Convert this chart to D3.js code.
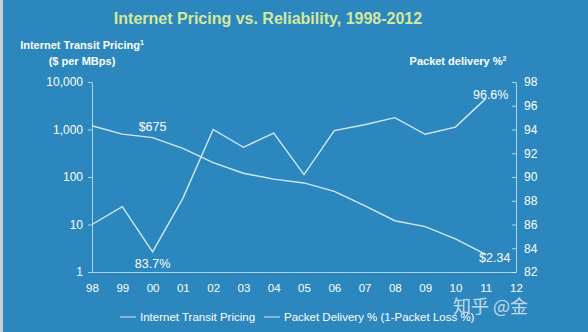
<!DOCTYPE html>
<meta charset="utf-8">
<script src="https://d3js.org/d3.v7.min.js"></script>
<style>
  body { margin: 0; background: #2b87be; }
  svg { display: block; font-family: "Liberation Sans", Arial, sans-serif; }
</style>
<div id="chart"></div>
<script>

// years on the x axis
var years = ["98", "99", "00", "01", "02", "03", "04", "05", "06", "07", "08", "09", "10", "11", "12"]

// transit price in $ per Mbps, 1998-2011
var pricing = [1200, 800, 675, 400, 200, 120, 90, 75, 50, 25, 12, 9, 5, 2.34]

// packet delivery %, 1998-2011
var delivery = [86, 87.5, 83.7, 88.2, 94, 92.5, 93.7, 90.2, 93.9, 94.4, 95, 93.6, 94.2, 96.6]

var leftTicks = [1, 10, 100, 1000, 10000]
var rightTicks = [82, 84, 86, 88, 90, 92, 94, 96, 98]

var width = 588,
    height = 332

var svg = d3.select("#chart")
  .append("svg")
    .attr("width", width)
    .attr("height", height)

svg.append("rect")
  .attr("width", width)
  .attr("height", height)
  .attr("fill", "#2b87be")

// pale strip along the left edge
svg.append("rect")
  .attr("width", 3)
  .attr("height", height)
  .attr("fill", "#c9ced8")

var x = d3.scalePoint().domain(years).range([92, 516])
var yL = d3.scaleLog().domain([1, 10000]).range([272, 82])
var yR = d3.scaleLinear().domain([82, 98]).range([272, 82])

var axisColor = "rgba(220,236,248,0.75)"
var lineColor = "rgba(228,242,252,0.9)"

// title
svg.append("text")
  .attr("x", 268)
  .attr("y", 24)
  .attr("text-anchor", "middle")
  .style("font-size", "16px")
  .style("font-weight", "bold")
  .attr("fill", "#d3e89b")
  .text("Internet Pricing vs. Reliability, 1998-2012")

// axis titles
var leftTitle = svg.append("text")
  .attr("x", 82)
  .attr("y", 49)
  .attr("text-anchor", "middle")
  .style("font-size", "11px")
  .style("font-weight", "bold")
  .attr("fill", "#fff")
leftTitle.append("tspan").text("Internet Transit Pricing")
leftTitle.append("tspan").attr("dy", -4).style("font-size", "7px").text("1")
svg.append("text")
  .attr("x", 82)
  .attr("y", 65)
  .attr("text-anchor", "middle")
  .style("font-size", "11px")
  .style("font-weight", "bold")
  .attr("fill", "#fff")
  .text("($ per MBps)")

var rightTitle = svg.append("text")
  .attr("x", 458)
  .attr("y", 65)
  .attr("text-anchor", "middle")
  .style("font-size", "11px")
  .style("font-weight", "bold")
  .attr("fill", "#fff")
rightTitle.append("tspan").text("Packet delivery %")
rightTitle.append("tspan").attr("dy", -4).style("font-size", "7px").text("2")

// axes
function styleAxis(size) {
  return function(g) {
    g.selectAll("path, line").attr("stroke", axisColor).attr("stroke-width", 1)
    g.selectAll("text").attr("fill", "#fff").style("font-size", size).style("font-family", "inherit")
  }
}

svg.append("g")
  .attr("transform", "translate(92,0)")
  .call(d3.axisLeft(yL).tickValues(leftTicks).tickFormat(d3.format(",")).tickSize(4).tickSizeOuter(0).tickPadding(5))
  .call(styleAxis("12px"))

svg.append("g")
  .attr("transform", "translate(516,0)")
  .call(d3.axisRight(yR).tickValues(rightTicks).tickSize(-4).tickSizeOuter(0).tickPadding(8))
  .call(styleAxis("12px"))

svg.append("g")
  .attr("transform", "translate(0,272)")
  .call(d3.axisBottom(x).tickSize(0).tickPadding(12))
  .call(styleAxis("11.5px"))

// series lines
var priceLine = d3.line()
  .x(function(d, i) { return x(years[i]) })
  .y(function(d) { return yL(d) })

var deliveryLine = d3.line()
  .x(function(d, i) { return x(years[i]) })
  .y(function(d) { return yR(d) })

svg.append("path")
  .datum(pricing)
  .attr("d", priceLine)
  .attr("fill", "none")
  .attr("stroke", lineColor)
  .attr("stroke-width", 1.4)

svg.append("path")
  .datum(delivery)
  .attr("d", deliveryLine)
  .attr("fill", "none")
  .attr("stroke", lineColor)
  .attr("stroke-width", 1.4)

// value callouts
function callout(px, py, txt) {
  svg.append("text")
    .attr("x", px)
    .attr("y", py)
    .attr("text-anchor", "middle")
    .attr("dy", "0.35em")
    .style("font-size", "12.5px")
    .attr("fill", "#fff")
    .text(txt)
}
callout(x("00"), yL(pricing[2]) - 11, "$" + pricing[2])
callout(x("00"), yR(delivery[2]) + 12, delivery[2] + "%")
var last = pricing.length - 1
callout(x(years[last]) + 9, yL(pricing[last]) + 3, "$" + pricing[last])
callout(x(years[last]) + 5, yR(delivery[last]) - 4, delivery[last] + "%")

// legend
var legend = svg.append("g").attr("transform", "translate(0,317)")
var items = [
  { label: "Internet Transit Pricing", x: 120 },
  { label: "Packet Delivery % (1-Packet Loss %)", x: 264 }
]
items.forEach(function(d) {
  legend.append("line")
    .attr("x1", d.x).attr("x2", d.x + 16)
    .attr("stroke", lineColor)
    .attr("stroke-width", 1)
  legend.append("text")
    .attr("x", d.x + 20)
    .attr("dy", "0.35em")
    .style("font-size", "11.5px")
    .attr("fill", "#fff")
    .text(d.label)
})

// site watermark
svg.append("text")
  .attr("x", 453)
  .attr("y", 313)
  .style("font-family", "'Noto Sans CJK SC', sans-serif")
  .style("font-size", "18px")
  .attr("fill", "rgba(235,240,245,0.8)")
  .text("知乎 @金")

</script>
